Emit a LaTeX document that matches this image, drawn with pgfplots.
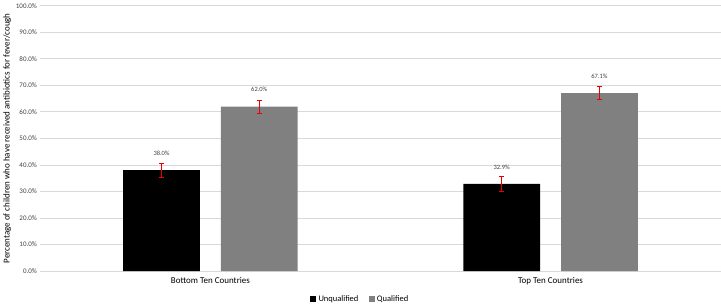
\documentclass[border=0pt]{standalone}
\usepackage{pgfplots}
\pgfplotsset{compat=1.18}
\usepackage{fontspec}
\setmainfont{Carlito}
\definecolor{gridc}{RGB}{217,217,217}
\definecolor{qual}{RGB}{128,128,128}
\definecolor{txt}{RGB}{64,64,64}
\definecolor{errc}{RGB}{230,0,0}
\pgfplotsset{myerr/.style={
  error bars/y dir=both, error bars/y explicit,
  error bars/error bar style={draw=errc, draw opacity=1, line width=1.6pt},
  error bars/error mark options={draw=errc, draw opacity=1, mark size=2.2pt, line width=0.8pt, rotate=90},
}}
\begin{document}
\begin{tikzpicture}[x=1pt,y=1pt]
\begin{axis}[
  scale only axis,
  width=682pt, height=266pt,
  ybar=21pt, bar width=77pt,
  xmin=-0.5, xmax=1.5,
  ymin=0, ymax=100,
  xtick={0,1},
  xticklabels={Bottom Ten Countries,Top Ten Countries},
  ytick={0,10,...,100},
  yticklabel={\pgfmathprintnumber[fixed,fixed zerofill,precision=1]{\tick}\%},
  /pgf/number format/assume math mode=true,
  yticklabel style={font=\fontsize{7}{8}\selectfont, text=txt},
  xticklabel style={font=\fontsize{9}{10}\selectfont, text=black, yshift=-3pt},
  major tick length=0pt,
  axis line style={draw=none},
  ymajorgrids, grid style={gridc, line width=0.8pt},
  ylabel={Percentage of children who have received antibiotics for fever/cough},
  ylabel style={font=\fontsize{9}{10}\selectfont, yshift=-2pt},
  clip=false,
  legend style={at={(0.47,-0.075)}, anchor=north, draw=none, legend columns=-1,
     font=\fontsize{8.5}{9}\selectfont, /tikz/every even column/.append style={column sep=8pt}},
  legend image code/.code={\fill[#1] (0pt,-3pt) rectangle (6pt,3pt);},
  nodes near coords,
  nodes near coords style={font=\fontsize{6.5}{7}\selectfont, text=txt, anchor=south, yshift=11pt, text opacity=1},
  point meta=explicit symbolic,
]
\addplot[color=errc, fill=black, draw=errc, draw opacity=0, line width=0.6pt, myerr] coordinates {
  (0,38.0) +- (0,2.7) [38.0\%]
  (1,32.9) +- (0,2.7) [32.9\%]
};
\addplot[color=errc, fill=qual, draw=errc, draw opacity=0, line width=0.6pt, myerr] coordinates {
  (0,62.0) +- (0,2.5) [62.0\%]
  (1,67.1) +- (0,2.5) [67.1\%]
};
\legend{Unqualified,Qualified}
\end{axis}
\end{tikzpicture}
\end{document}
